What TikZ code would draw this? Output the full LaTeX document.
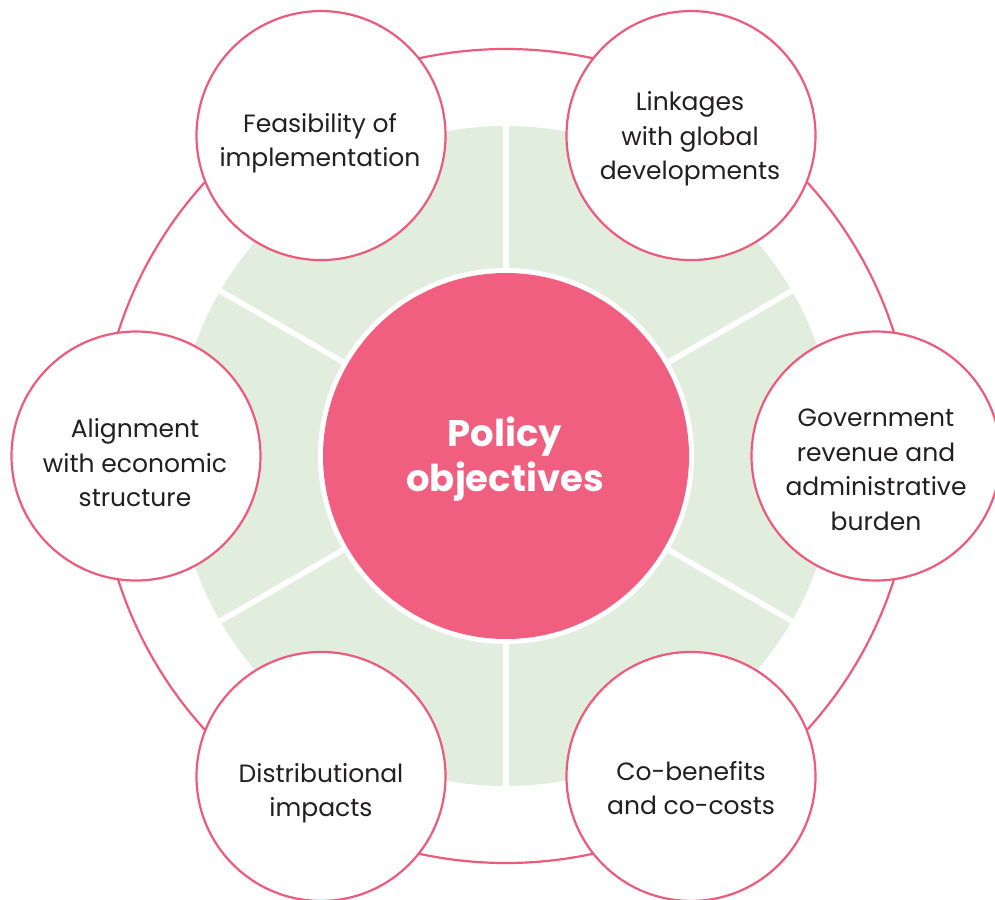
\documentclass[tikz,border=0pt]{standalone}
\usepackage{fontspec}
\setmainfont{Poppins}
\definecolor{pinkmain}{HTML}{F05E80}
\definecolor{pinkline}{HTML}{EC5A7C}
\definecolor{greenbg}{HTML}{E1EEDE}
\definecolor{txt}{HTML}{231F20}
\begin{document}
\begin{tikzpicture}[x=1pt,y=-1pt,
  smallcirc/.style={circle,draw=pinkline,fill=white,line width=2.2pt,inner sep=0pt,minimum size=249pt},
  smalltext/.style={align=center,text=txt,font=\fontsize{25}{34.5}\selectfont},
  divider/.style={white,line width=5.5pt}]
\useasboundingbox (0,0) rectangle (995,899);
\coordinate (c) at (506,456);
% green disc
\fill[greenbg] (c) circle[radius=330pt];
% dividers
\foreach \a/\n in {90/d1,30/d2,-30/d3,-90/d4,210/d5,150/d6}{
  \coordinate (\n) at ([shift={(\a:336pt)}]c);
  \draw[divider] (c) -- (\n);
}
% outer ring
\node[circle,draw=pinkline,line width=2.2pt,inner sep=0pt,minimum size=814pt] (ring) at (c) {};
% centre
\fill[white] (c) circle[radius=188pt];
\node[circle,fill=pinkmain,inner sep=0pt,minimum size=366pt] (center) at (c) {};
\node[align=center,text=white,font=\bfseries\fontsize{37}{45}\selectfont] (centertext) at (505,459) {Policy\\objectives};
% small circles
\node[smallcirc] (feas) at ([shift={(120:370pt)}]c) {};
\node[smallcirc] (link) at ([shift={(60:370pt)}]c) {};
\node[smallcirc] (gov) at ([shift={(0:370pt)}]c) {};
\node[smallcirc] (cob) at ([shift={(-60:370pt)}]c) {};
\node[smallcirc] (dist) at ([shift={(-120:370pt)}]c) {};
\node[smallcirc] (align) at ([shift={(180:370pt)}]c) {};
% texts
\node[smalltext] (feast) at (320,143) {Feasibility of\\implementation};
\node[smalltext] (linkt) at (690,139) {Linkages\\with global\\developments};
\node[smalltext] (govt) at (876,470) {Government\\revenue and\\administrative\\burden};
\node[smalltext] (cobt) at (691,788) {Co-benefits\\and co-costs};
\node[smalltext] (distt) at (321,793) {Distributional\\impacts};
\node[smalltext] (alignt) at (135,463) {Alignment\\with economic\\structure};
\end{tikzpicture}
\end{document}
